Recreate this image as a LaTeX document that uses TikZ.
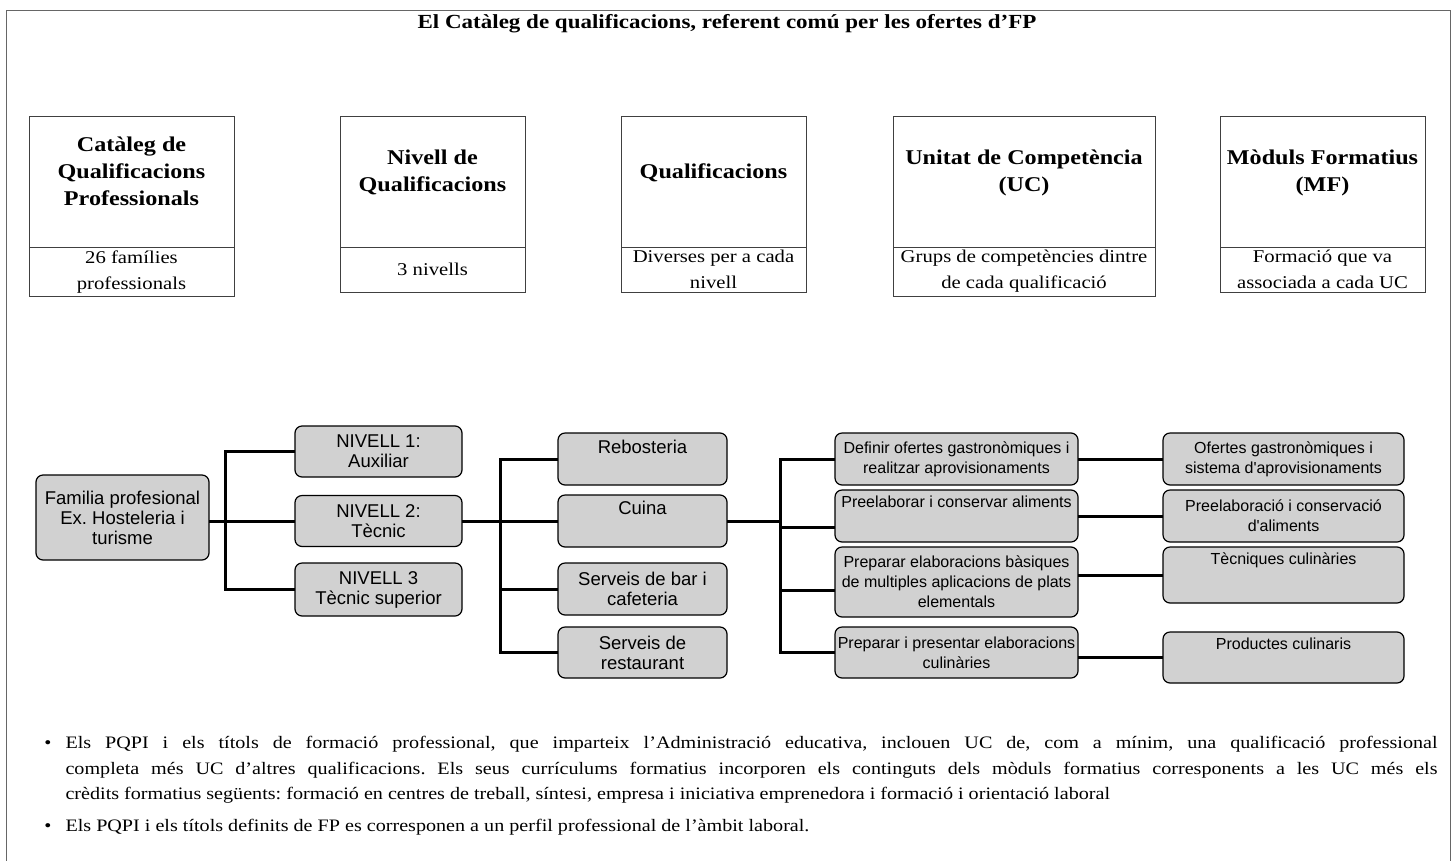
\documentclass[tikz,border=0pt]{standalone}
\usepackage{fontspec}
\setmainfont{Liberation Serif}[FakeStretch=1.15]
\newfontfamily\arialf{Liberation Sans}
\usepackage{tikz}
\usetikzlibrary{positioning}
\definecolor{boxgray}{gray}{0.82}
\frenchspacing
\tikzset{
	head/.style={draw=black!75, line width=0.8pt, outer sep=0pt, minimum height=131pt, align=center, font=\bfseries\fontsize{21}{27}\selectfont},
	note/.style={draw=black!75, line width=0.8pt, outer sep=0pt, minimum height=45pt, align=center, font=\fontsize{18}{26}\selectfont},
	tbox/.style={draw, line width=1.2pt, rounded corners=7pt, fill=boxgray, align=center, outer sep=0pt, inner sep=2pt, font=\arialf\fontsize{18.5}{20}\selectfont},
	ubox/.style={tbox, font=\arialf\fontsize{16}{20}\selectfont},
	link/.style={line width=3pt},
	point/.style={anchor=north west, text width=1372pt, align=justify, font=\fontsize{17.5}{25.5}\selectfont}
}
\newcommand{\bul}{\leavevmode\llap{\textbullet\hspace{14pt}}}

\begin{document}
\begin{tikzpicture}[x=1pt, y=-1pt]
	\useasboundingbox (0,0) rectangle (1455,860);
	\draw[black!60, line width=0.8pt] (6,10) rectangle (1450,880);
	\node[font=\bfseries\fontsize{20}{24}\selectfont] (title) at (727,24) {El Catàleg de qualificacions, referent comú per les ofertes d’FP};

	\node[head, minimum width=205pt] (cat) at (131.5,181.5) {Catàleg de\\Qualificacions\\Professionals\\[-6pt]~};
	\node[head, minimum width=185pt] (niv) at (432.5,181.5) {Nivell de\\Qualificacions\\[-6pt]~};
	\node[head, minimum width=185pt] (qua) at (713.5,181.5) {Qualificacions\\[-6pt]~};
	\node[head, minimum width=262pt] (uc) at (1024,181.5) {Unitat de Competència\\(UC)\\[-6pt]~};
	\node[head, minimum width=205pt] (mf) at (1322.5,181.5) {Mòduls Formatius\\(MF)\\[-6pt]~};
	\node[note, minimum width=205pt, below=0pt of cat] (catn) {26 famílies\\professionals};
	\node[note, minimum width=185pt, below=0pt of niv] (nivn) {3 nivells};
	\node[note, minimum width=185pt, below=0pt of qua] (quan) {Diverses per a cada\\nivell};
	\node[note, minimum width=262pt, below=0pt of uc] (ucn) {Grups de competències dintre\\de cada qualificació};
	\node[note, minimum width=205pt, below=0pt of mf] (mfn) {Formació que va\\associada a cada UC};

	\node[tbox, minimum width=173pt, minimum height=85pt] (fam) at (122.5,517.5) {Familia profesional\\Ex. Hosteleria i\\turisme};
	\node[tbox, minimum width=167pt, minimum height=51pt] (niv1) at (378.5,451.5) {NIVELL 1:\\Auxiliar};
	\node[tbox, minimum width=167pt, minimum height=51pt] (niv2) at (378.5,521) {NIVELL 2:\\Tècnic};
	\node[tbox, minimum width=167pt, minimum height=53pt] (niv3) at (378.5,589.5) {NIVELL 3\\Tècnic superior};
	\node[tbox, minimum width=169pt, minimum height=52pt] (reb) at (642.5,459) {Rebosteria\\[4pt]~};
	\node[tbox, minimum width=169pt, minimum height=52pt] (cui) at (642.5,521) {Cuina\\[6pt]~};
	\node[tbox, minimum width=169pt, minimum height=52pt] (bar) at (642.5,589) {Serveis de bar i\\cafeteria};
	\node[tbox, minimum width=169pt, minimum height=51pt] (res) at (642.5,652.5) {Serveis de\\restaurant};
	\node[ubox, minimum width=243pt, minimum height=52pt] (uc1) at (956.5,459) {Definir ofertes gastronòmiques i\\realitzar aprovisionaments};
	\node[ubox, minimum width=243pt, minimum height=52pt] (uc2) at (956.5,516) {Preelaborar i conservar aliments\\[8pt]~};
	\node[ubox, minimum width=243pt, minimum height=70pt] (uc3) at (956.5,582) {Preparar elaboracions bàsiques\\de multiples aplicacions de plats\\elementals};
	\node[ubox, minimum width=243pt, minimum height=51pt] (uc4) at (956.5,652.5) {Preparar i presentar elaboracions\\culinàries};
	\node[ubox, minimum width=241pt, minimum height=52pt] (mf1) at (1283.5,459) {Ofertes gastronòmiques i\\sistema d'aprovisionaments};
	\node[ubox, minimum width=241pt, minimum height=52pt] (mf2) at (1283.5,516) {Preelaboració i conservació\\d'aliments};
	\node[ubox, minimum width=241pt, minimum height=56pt] (mf3) at (1283.5,575) {Tècniques culinàries\\[12pt]~};
	\node[ubox, minimum width=241pt, minimum height=51pt] (mf4) at (1283.5,657.5) {Productes culinaris\\[7pt]~};

	\coordinate (ta) at (225,521);
	\coordinate (tb) at (500,521);
	\coordinate (tc) at (780,521);
	\draw[link] (fam.east |- niv2.west) -- (niv2.west);
	\draw[link] (niv1.west) -| (ta) |- (niv3.west);
	\draw[link] (niv2.east) -- (tb);
	\draw[link] (reb.west) -| (tb) |- (res.west);
	\draw[link] (tb) -- (cui.west);
	\draw[link] (tb |- bar.west) -- (bar.west);
	\draw[link] (cui.east) -- (tc);
	\draw[link] (uc1.west) -| (tc) |- (uc4.west);
	\draw[link] (tc |- 0,527) -- (uc2.west |- 0,527);
	\draw[link] (tc |- 0,590) -- (uc3.west |- 0,590);
	\draw[link] (uc1.east |- mf1.west) -- (mf1.west);
	\draw[link] (uc2.east |- mf2.west) -- (mf2.west);
	\draw[link] (uc3.east |- mf3.west) -- (mf3.west);
	\draw[link] (uc4.east |- mf4.west) -- (mf4.west);

	\node[point] (p1) at (62,733) {\bul Els PQPI i els títols de formació professional, que imparteix l’Administració educativa, inclouen UC de, com a mínim, una qualificació professional\linebreak completa més UC d’altres qualificacions. Els seus currículums formatius incorporen els continguts dels mòduls formatius corresponents a les UC més els\linebreak crèdits formatius següents: formació en centres de treball, síntesi, empresa i iniciativa emprenedora i formació i orientació laboral};
	\node[point] (p2) at (62,816) {\bul Els PQPI i els títols definits de FP es corresponen a un perfil professional de l’àmbit laboral.};
\end{tikzpicture}
\end{document}
